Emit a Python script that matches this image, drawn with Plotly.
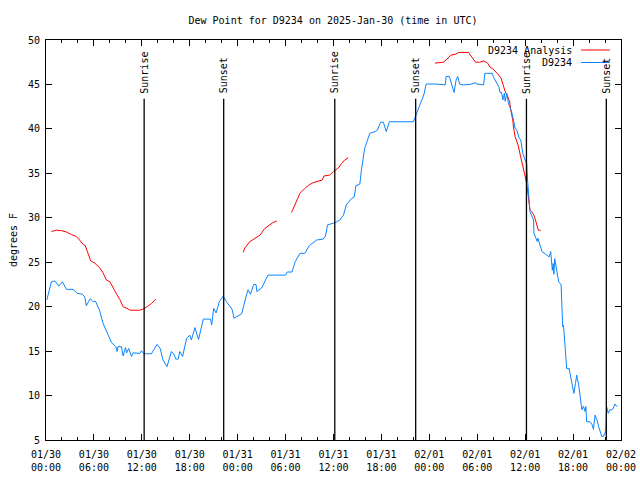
import pandas as pd
import plotly.graph_objects as go

START = pd.Timestamp("2025-01-30 00:00")

# Observed dew point (hours since 2025-01-30 00:00 UTC, degrees F)
obs_hours = [0.1, 0.68, 1.1, 1.6, 2.05, 2.55, 3.4, 3.9, 4.55, 4.85, 5.05, 5.55, 5.9, 6.2, 6.7,
             7.15, 7.8, 8.0, 8.2, 8.75, 8.9, 9.0, 9.45, 9.65, 9.95, 10.1, 10.35, 10.7, 10.9,
             11.75, 11.95, 12.25, 13.2, 13.9, 14.3, 14.65, 15.15, 15.7, 16.0, 16.25, 16.55,
             16.75, 17.1, 17.6, 18.0, 18.2, 18.65, 19.1, 19.7, 20.6, 20.75, 21.0, 21.3, 21.7,
             22.2, 22.6, 23.0, 23.3, 23.55, 24.5, 25.1, 25.3, 25.6, 26.0, 26.3, 26.4, 27.0,
             27.8, 30.0, 30.2, 30.8, 31.2, 31.8, 32.4, 33.0, 33.9, 34.7, 35.0, 35.25, 36.2,
             36.8, 37.25, 37.6, 38.3, 38.6, 38.8, 39.3, 39.5, 39.9, 40.55, 41.2, 41.5, 41.9,
             42.25, 42.6, 43.0, 46.0, 46.3, 46.8, 47.3, 47.6, 48.85, 50.0, 50.1, 50.5, 50.8,
             51.1, 51.35, 51.55, 51.8, 52.2, 53.1, 53.8, 53.9, 54.8, 54.95, 55.9, 56.0, 56.3,
             56.5, 56.7, 56.85, 57.05, 57.2, 57.4, 57.5, 57.7, 57.9, 58.3, 58.5, 58.75, 58.95,
             59.25, 59.45, 59.7, 60.0, 60.2, 60.3, 60.4, 60.6, 61.05, 61.1, 61.35, 61.5, 61.6,
             61.8, 62.1, 62.5, 63.0, 63.2, 63.4, 63.5, 63.6, 63.7, 63.95, 64.2, 64.5, 64.6,
             64.7, 64.8, 64.9, 65.1, 65.2, 65.5, 65.7, 65.95, 66.1, 66.3, 66.45, 66.7, 66.95,
             67.1, 67.3, 67.5, 67.6, 67.7, 68.1, 68.35, 68.55, 68.75, 69.0, 69.2, 69.6, 69.8,
             70.1, 70.2, 70.4, 70.6, 70.8, 71.0, 71.25, 71.5]
obs_values = [20.75, 22.8, 22.9, 22.3, 22.8, 21.95, 21.95, 21.5, 21.4, 21.1, 20.1, 20.9, 20.55,
              20.6, 19.6, 18.1, 16.8, 16.25, 15.95, 15.5, 14.95, 15.5, 15.5, 14.45, 15.4, 14.8,
              15.3, 14.4, 14.8, 14.75, 15.05, 14.7, 14.7, 15.75, 15.3, 14.0, 13.25, 14.95, 14.7,
              14.1, 14.1, 14.95, 14.4, 16.4, 16.8, 16.25, 17.65, 16.3, 18.6, 18.6, 17.95, 19.8,
              19.3, 20.55, 21.2, 20.55, 20.1, 19.7, 18.7, 19.2, 21.3, 21.9, 21.4, 22.5, 22.5,
              21.7, 22.1, 23.55, 23.55, 23.9, 23.9, 25.05, 26.0, 26.0, 26.9, 27.5, 27.6, 27.95,
              29.2, 29.45, 29.75, 30.3, 31.45, 32.2, 32.35, 33.6, 33.8, 35.4, 37.8, 39.5, 39.7,
              39.85, 40.75, 40.75, 39.7, 40.8, 40.8, 41.55, 42.7, 43.8, 45.05, 45.05, 44.95,
              45.9, 45.9, 44.95, 44.1, 45.5, 45.9, 45.05, 44.95, 45.0, 45.2, 45.05, 44.95,
              46.25, 46.25, 45.9, 45.3, 45.05, 44.75, 44.1, 44.1, 43.25, 44.0, 43.1, 44.0, 42.9,
              41.95, 41.0, 40.05, 39.9, 38.95, 38.75, 37.25, 36.5, 36.1, 34.25, 32.55, 30.7,
              29.75, 28.25, 27.7, 27.35, 27.7, 27.15, 26.2, 25.95, 25.6, 26.2, 24.1, 24.85,
              23.65, 25.4, 23.95, 22.8, 22.45, 20.0, 17.75, 17.9, 16.8, 14.4, 13.05, 13.05,
              11.95, 10.8, 10.25, 11.35, 12.3, 11.2, 9.15, 8.4, 8.8, 8.2, 8.75, 7.05, 7.05, 6.8,
              6.2, 7.8, 7.25, 6.5, 5.4, 5.4, 6.0, 8.75, 8.0, 8.4, 8.4, 8.5, 9.05, 8.75]

# Analysis dew point (None = gap)
ana_hours = [0.68, 1.3, 1.95, 2.55, 3.2, 3.8, 4.2, 4.65, 4.9, 5.25, 5.6, 6.1, 6.7, 7.15, 7.55,
             8.0, 8.4, 8.85, 9.25, 9.65, 10.15, 10.55, 11.75, 12.35, 12.75, 13.2, 13.75, None,
             24.7, 24.9, 25.5, 26.15, 26.8, 27.4, 28.0, 28.4, 28.9, None,
             30.75, 31.15, 31.8, 32.4, 32.95, 33.45, 34.1, 34.6, 34.8, 35.5, 36.0, 36.6, 37.0,
             37.4, 37.85, None,
             48.7, 49.75, 50.1, 50.7, 51.25, 51.7, 52.9, 53.3, 53.8, 54.3, 54.85, 55.3, 55.6,
             55.95, 56.35, 56.7, 57.0, 57.2, 57.5, 57.8, 58.05, 58.2, 58.45, 58.55, 58.75, 59.1,
             59.35, 59.65, 59.85, 60.1, 60.3, 60.45, 60.6, 60.8, 61.1, 61.35, 61.65, 61.95]
ana_values = [28.45, 28.6, 28.55, 28.4, 28.1, 27.9, 27.5, 27.0, 26.9, 26.0, 25.15, 24.9, 24.4,
              23.8, 23.0, 22.8, 22.05, 21.4, 20.8, 20.0, 19.8, 19.6, 19.6, 19.8, 20.05, 20.35,
              20.85, None,
              26.1, 26.6, 27.3, 27.65, 28.05, 28.8, 29.2, 29.45, 29.65, None,
              30.6, 31.45, 32.75, 33.3, 33.7, 33.95, 34.15, 34.25, 34.7, 34.8, 35.2, 35.6, 36.1,
              36.5, 36.75, None,
              47.4, 47.5, 47.75, 48.3, 48.4, 48.6, 48.6, 48.1, 47.5, 47.5, 47.65, 47.4, 46.95,
              46.75, 46.4, 46.05, 45.65, 45.1, 44.2, 43.65, 43.1, 42.1, 41.0, 40.1, 39.1, 38.2,
              37.25, 35.95, 35.2, 34.25, 33.1, 31.6, 30.9, 30.7, 30.3, 29.55, 28.6, 28.6]

sun_hours = [12.29, 22.25, 36.16, 46.29, 60.16, 70.16]
sun_labels = ["Sunrise", "Sunset", "Sunrise", "Sunset", "Sunrise", "Sunset"]

legend_names = ["D9234 Analysis", "D9234"]
legend_colors = ["#ff0000", "#0a84ff"]


def to_time(hours):
    return [START + pd.Timedelta(hours=h) if h is not None else None for h in hours]


FONT = "DejaVu Sans Mono"
L, R, T, B = 46, 19, 40, 40
PW = 640 - L - R
PH = 480 - T - B

fig = go.Figure()
fig.add_trace(go.Scatter(x=to_time(ana_hours), y=ana_values, mode="lines",
                         name=legend_names[0], line=dict(color=legend_colors[0], width=1),
                         connectgaps=False, showlegend=False))
fig.add_trace(go.Scatter(x=to_time(obs_hours), y=obs_values, mode="lines",
                         name=legend_names[1], line=dict(color=legend_colors[1], width=1),
                         showlegend=False))

shapes = []
annotations = []
for t, lab in zip(to_time(sun_hours), sun_labels):
    shapes.append(dict(type="line", xref="x", yref="y", x0=t, x1=t, y0=5, y1=43.4,
                       line=dict(color="black", width=1.3)))
    annotations.append(dict(x=t, y=43.75, xref="x", yref="y", text=lab, showarrow=False,
                            textangle=-90, xanchor="center", yanchor="bottom",
                            font=dict(family=FONT, size=10, color="black")))

# gnuplot-style key: text right-aligned, sample line on the right
for i, (nm, col) in enumerate(zip(legend_names, legend_colors)):
    ypix = 50 + i * 12.5
    yp = 1 - (ypix - T) / PH
    annotations.append(dict(x=(574 - L) / PW, y=yp, xref="paper", yref="paper", text=nm,
                            showarrow=False, xanchor="right", yanchor="middle",
                            font=dict(family=FONT, size=10, color="black")))
    shapes.append(dict(type="line", xref="paper", yref="paper",
                       x0=(581 - L) / PW, x1=(610 - L) / PW, y0=yp, y1=yp,
                       line=dict(color=col, width=1)))

fig.update_layout(
    width=640, height=480,
    margin=dict(l=L, r=R, t=T, b=B),
    paper_bgcolor="white", plot_bgcolor="white",
    font=dict(family=FONT, size=10, color="black"),
    title=dict(text="Dew Point for D9234 on 2025-Jan-30 (time in UTC)", x=333 / 640,
               xanchor="center", y=1 - 20 / 480, yanchor="middle",
               font=dict(family=FONT, size=10)),
    shapes=shapes, annotations=annotations,
)
fig.update_xaxes(
    type="date",
    range=[START, START + pd.Timedelta(hours=72)],
    dtick=6 * 3600 * 1000, tick0=START,
    tickformat="%m/%d<br>%H:%M",
    ticks="inside", ticklen=6, tickcolor="black", tickwidth=1,
    showline=True, linecolor="black", linewidth=1, mirror="ticks",
    showgrid=False, zeroline=False,
    minor=dict(dtick=2 * 3600 * 1000, ticks="inside", ticklen=3, tickcolor="black", showgrid=False),
    tickfont=dict(family=FONT, size=10),
    ticklabelstandoff=5,
    automargin=False,
)
fig.update_yaxes(
    range=[5, 50], dtick=5, tick0=5,
    ticks="inside", ticklen=6, tickcolor="black", tickwidth=1,
    showline=True, linecolor="black", linewidth=1, mirror="ticks",
    showgrid=False, zeroline=False,
    title=dict(text="degrees F", font=dict(family=FONT, size=10), standoff=8),
    tickfont=dict(family=FONT, size=10),
    ticklabelstandoff=3,
    automargin=False,
)

fig.write_html("out.html", post_script="document.body.style.margin='0px';",
               config={"displayModeBar": False})
